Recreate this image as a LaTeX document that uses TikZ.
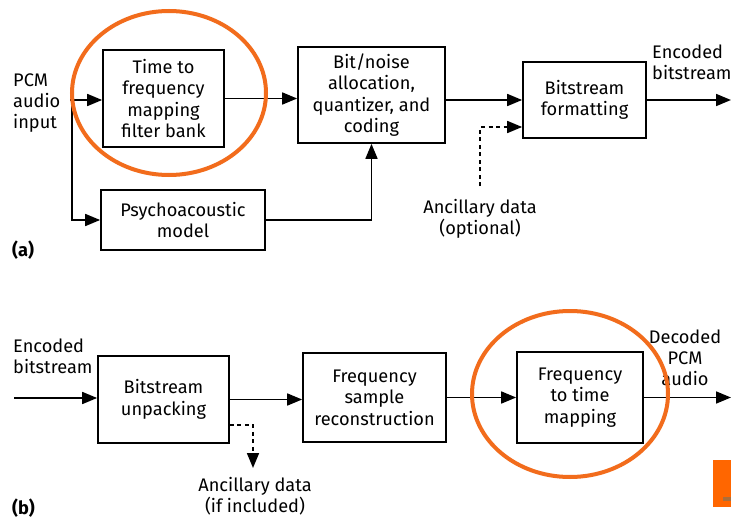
\documentclass[tikz,border=0pt]{standalone}
\usepackage{fontspec}
\setmainfont{Fira Sans}
\usetikzlibrary{arrows.meta,calc}
\definecolor{circ}{RGB}{242,108,28}
\definecolor{logo}{RGB}{255,102,0}
\definecolor{logob}{RGB}{170,110,60}
\begin{document}
\begin{tikzpicture}[x=1pt,y=-1pt,
  box/.style={draw,line width=1.7pt,align=center,inner sep=0pt,font=\fontsize{18.2}{21.5}\selectfont},
  lbl/.style={align=center,inner sep=0pt,font=\fontsize{18.2}{21}\selectfont},
  conn/.style={line width=1.7pt,-{Triangle[length=15pt,width=12pt]}},
  dconn/.style={conn,dash pattern=on 4pt off 3.5pt},
  ring/.style={draw=circ,line width=4pt}]
\useasboundingbox[fill=white] (0,0) rectangle (731,519);
% (a) encoder
\node[box,minimum width=121pt,minimum height=97pt] (b1) at (163.5,98.5) {Time to\\frequency\\mapping\\filter bank};
\node[box,minimum width=164pt,minimum height=60pt] (b2) at (183,220) {Psychoacoustic\\model};
\node[box,minimum width=147pt,minimum height=96pt] (b3) at (371.5,95) {Bit/noise\\allocation,\\quantizer, and\\coding};
\node[box,minimum width=123pt,minimum height=76pt] (b4) at (584.5,100) {Bitstream\\formatting};
\node[lbl,anchor=west,align=left] (pcm) at (13,103) {PCM\\audio\\input};
\node[lbl,anchor=west,align=left] (enc1) at (652,62) {Encoded\\bitstream};
\node[lbl] (anc1) at (480,219) {Ancillary data\\(optional)};
\node[lbl,anchor=west,font=\fontsize{18.2}{21}\selectfont\bfseries] (la) at (12,250) {(a)};
\coordinate (in1) at (70,100);
\coordinate (br1) at (72,100);
\coordinate (ancs) at (480,186);
\coordinate (out1) at (731,100);
\draw[conn] (in1) -- (in1 -| b1.west);
\draw[conn] (br1) |- (b2.west);
\draw[conn] (b1.east) -- (b1.east -| b3.west);
\draw[conn] (b2.east) -| (b3.south);
\draw[conn] (b4.west -| b3.east) -- (b4.west);
\draw[dconn] (ancs) |- ([yshift=-27pt]b4.west);
\draw[conn] (b4.east) -- (out1);
% (b) decoder
\node[box,minimum width=131pt,minimum height=87pt] (b5) at (163.5,399.5) {Bitstream\\unpacking};
\node[box,minimum width=143pt,minimum height=89pt] (b6) at (374.5,397.5) {Frequency\\sample\\reconstruction};
\node[box,minimum width=126pt,minimum height=91pt] (b7) at (580,397.5) {Frequency\\to time\\mapping};
\node[lbl,anchor=west,align=left] (enc2) at (13,356) {Encoded\\bitstream};
\node[lbl] (dec) at (685,358) {Decoded\\PCM\\audio};
\node[lbl] (anc2) at (255,496) {Ancillary data\\(if included)};
\node[lbl,anchor=west,font=\fontsize{18.2}{21}\selectfont\bfseries] (lb) at (12,508) {(b)};
\coordinate (in2) at (14,398);
\coordinate (ance) at (253,468);
\coordinate (out2) at (731,397.5);
\draw[conn] (in2) -- (in2 -| b5.west);
\draw[conn] (b5.east) -- (b5.east -| b6.west);
\draw[conn] (b6.east) -- (b6.east -| b7.west);
\draw[conn] (b7.east) -- (out2);
\draw[dconn] ([yshift=-25.5pt]b5.east) -| (ance);
% highlight rings
\draw[ring] (169,93) ellipse [x radius=97, y radius=82];
\draw[ring] (570,394) ellipse [x radius=98, y radius=83];
% logo fragment
\fill[logo] (713,460) rectangle (731,507);
\fill[logob] (723,497) rectangle (731,501);
\end{tikzpicture}
\end{document}
